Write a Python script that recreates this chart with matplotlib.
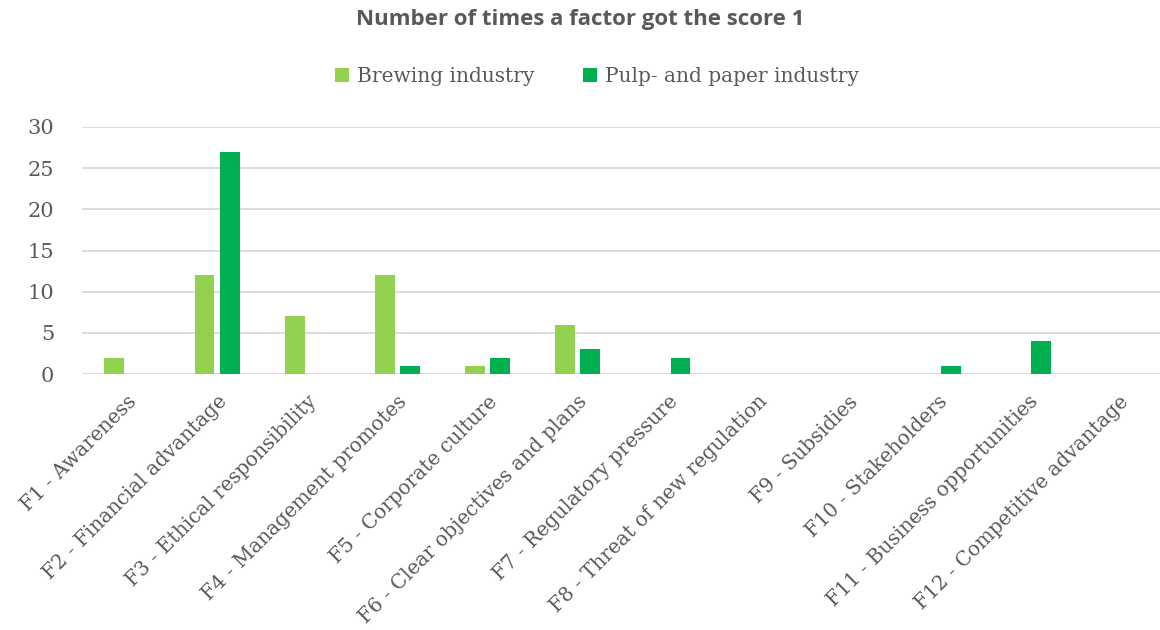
import numpy as np
import matplotlib.pyplot as plt

# data
factors = ["F1 - Awareness", "F2 - Financial advantage", "F3 - Ethical responsibility",
           "F4 - Management promotes", "F5 - Corporate culture", "F6 - Clear objectives and plans",
           "F7 - Regulatory pressure", "F8 - Threat of new regulation", "F9 - Subsidies",
           "F10 - Stakeholders", "F11 - Business opportunities", "F12 - Competitive advantage"]
brewing = [2, 12, 7, 12, 1, 6, 0, 0, 0, 0, 0, 0]
pulp = [0, 27, 0, 1, 2, 3, 2, 0, 0, 1, 4, 0]

grey = "#595959"
serif = "DejaVu Serif"

fig = plt.figure(figsize=(11.6, 6.3), dpi=100)
ax = fig.add_axes([82/1160, 1-374/630, 1.0-82/1160+0.003, (374-127)/630])

x = np.arange(len(factors))
w = 0.22
ax.bar(x - 0.141, brewing, w, color="#92D050", label="Brewing industry", zorder=3)
ax.bar(x + 0.141, pulp, w, color="#00B050", label="Pulp- and paper industry", zorder=3)

ax.set_xlim(-0.5, len(factors) - 0.5)
ax.set_ylim(0, 30)
ax.set_yticks(range(0, 31, 5))
ax.yaxis.grid(True, color="#D9D9D9", linewidth=1.3, zorder=0)
for s in ax.spines.values():
    s.set_visible(False)
ax.tick_params(length=0)
ax.tick_params(axis="y", pad=20)
for t in ax.get_yticklabels():
    t.set_fontfamily(serif)
    t.set_fontsize(15)
    t.set_color(grey)

ax.set_xticks(x)
ax.set_xticklabels(factors, rotation=45, ha="right", rotation_mode="anchor",
                   fontfamily=serif, fontsize=14.3, color=grey)
ax.tick_params(axis="x", pad=13)

fig.text(0.5, 1-20/630, "Number of times a factor got the score 1", ha="center", va="center",
         fontsize=16, fontweight="bold", color=grey, fontfamily="Open Sans")
ax.legend(loc="upper center", bbox_to_anchor=(0.515, (630-49)/630), bbox_transform=fig.transFigure,
          ncol=2, frameon=False, prop={"family": serif, "size": 14.5}, labelcolor=grey,
          handlelength=0.7, handleheight=0.7, handletextpad=0.4, columnspacing=2.4)

fig.savefig("out.png", dpi=100)
